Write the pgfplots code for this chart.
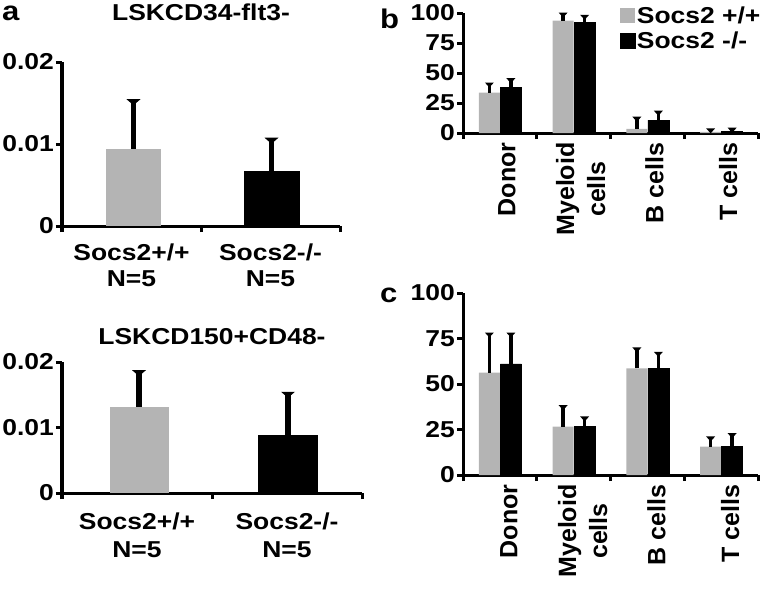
\documentclass[border=0pt]{standalone}
\usepackage{fontspec}
\setmainfont{Liberation Sans}[FakeStretch=1.15]
\newfontfamily\rotfont{Liberation Sans}
\usepackage{pgfplots}
\pgfplotsset{compat=1.18}
\definecolor{bargray}{RGB}{180,180,180}
\newcommand\tf{\fontsize{23bp}{26bp}\selectfont\bfseries}
\newcommand\rf{\rotfont\fontsize{25bp}{31bp}\selectfont\bfseries}
\newcommand\lf{\fontsize{27bp}{30bp}\selectfont\bfseries}
% error caps: pgfplots turns y error marks by 90 degrees, so they are drawn turned back
\pgfdeclareplotmark{capA}{%
 \pgfpathmoveto{\pgfqpoint{0bp}{7bp}}%
 \pgfpathlineto{\pgfqpoint{0bp}{-7bp}}%
 \pgfpathlineto{\pgfqpoint{-6bp}{0bp}}%
 \pgfpathclose
 \pgfusepathqfill}
\pgfdeclareplotmark{capC}{%
 \pgfpathmoveto{\pgfqpoint{0bp}{4.5bp}}%
 \pgfpathlineto{\pgfqpoint{0bp}{-4.5bp}}%
 \pgfpathlineto{\pgfqpoint{-5bp}{0bp}}%
 \pgfpathclose
 \pgfusepathqfill}
\pgfplotsset{
 panel/.style={
  scale only axis, axis lines*=left,
  axis line style={-, line width=3bp, black},
  tick align=outside, major tick length=6bp, minor tick length=6bp,
  every tick/.style={black, line width=3bp},
  major x tick style={draw=none},
  clip=false, ybar, scaled y ticks=false,
  /pgf/number format/assume math mode=true,
  error bars/y dir=plus, error bars/y explicit,
  error bars/error mark options={black, fill=black},
  ticklabel style={font=\tf},
  yticklabel style={inner xsep=2bp},
  legend image code/.code={\fill[##1] (0bp,-7.5bp) rectangle (15bp,7.5bp);},
 },
 panelA/.style={panel, xmin=-0.5, xmax=1.5, ymin=0, ymax=0.02,
  ytick={0,0.01,0.02}, yticklabels={0,0.01,0.02},
  xtick={0,1}, xticklabels={{Socs2+/+\\N=5},{Socs2-/-\\N=5}},
  xticklabel style={align=center},
  minor xtick={-0.5,0.5,1.5},
  error bars/error bar style={line width=5.5bp, black},
  error bars/error mark=capA,
  title style={at={(0.5,1)}, anchor=base, font=\tf},
 },
 panelB/.style={panel, xmin=-0.5, xmax=3.5, ymin=0, ymax=100,
  ytick={0,25,50,75,100}, yticklabels={0,25,50,75,100},
  xtick={0,1,2,3}, xticklabels={Donor,{Myeloid\\cells},B cells,T cells},
  xticklabel style={rotate=90, anchor=east, align=center, font=\rf},
  minor xtick={-0.5,0.5,1.5,2.5,3.5},
  bar width=21bp,
  error bars/error bar style={line width=3.5bp, black},
  error bars/error mark=capC,
 },
}
\begin{document}
\begin{tikzpicture}
\path[use as bounding box] (0bp,0bp) rectangle (762bp,-589bp);
% panel a top
\begin{axis}[panelA, at={(62bp,-226bp)}, anchor=south west,
  width=278bp, height=164bp, bar width=55bp,
  xticklabel style={yshift=-8bp},
  title={LSKCD34-flt3-}, title style={yshift=36bp}]
\addplot[fill=bargray, draw=none, bar shift=2bp] coordinates {(0,0.0094) +- (0,0.0057)};
\addplot[fill=black, draw=black, bar shift=1bp] coordinates {(1,0.0067) +- (0,0.0037)};
\end{axis}
% panel a bottom
\begin{axis}[panelA, at={(62bp,-493bp)}, anchor=south west,
  width=300bp, height=131bp, bar width=59bp,
  xticklabel style={yshift=-10bp, font=\fontsize{23bp}{28bp}\selectfont\bfseries},
  title={LSKCD150+CD48-}, title style={yshift=12bp}]
\addplot[fill=bargray, draw=none, bar shift=2bp] coordinates {(0,0.0132) +- (0,0.0051)};
\addplot[fill=black, draw=black, bar shift=1bp] coordinates {(1,0.0089) +- (0,0.0061)};
\end{axis}
% panel b
\begin{axis}[panelB, at={(463bp,-133bp)}, anchor=south west,
  width=295bp, height=120bp,
  xticklabel style={yshift=-7bp},
  legend style={at={(0.53,1.07)}, anchor=north west, draw=none, fill=none,
    font=\tf, inner sep=0pt, row sep=3bp, cells={anchor=west}},
  legend cell align=left]
\addplot[fill=bargray, draw=none, bar shift=-10.5bp] coordinates {
 (0,33.6) +- (0,6.4) (1,93.6) +- (0,4.7) (2,3.5) +- (0,8) (3,1.0) +- (0,0.8)};
\addlegendentry{Socs2 +/+}
\addplot[fill=black, draw=black, bar shift=11bp] coordinates {
 (0,38.0) +- (0,5.6) (1,92.0) +- (0,4.4) (2,10.8) +- (0,5.7) (3,1.5) +- (0,0.8)};
\addlegendentry{Socs2 -/-}
\end{axis}
% panel c
\begin{axis}[panelB, at={(463bp,-475bp)}, anchor=south west,
  width=295bp, height=182bp,
  xticklabel style={yshift=-9bp}]
\addplot[fill=bargray, draw=none, bar shift=-10.5bp] coordinates {
 (0,56.2) +- (0,20.7) (1,26.6) +- (0,10.4) (2,58.6) +- (0,10.1) (3,15.6) +- (0,4.2)};
\addplot[fill=black, draw=black, bar shift=11bp] coordinates {
 (0,61.0) +- (0,15.9) (1,26.6) +- (0,4.2) (2,58.6) +- (0,7.7) (3,15.6) +- (0,6.0)};
\end{axis}
\node[anchor=base west, font=\lf, inner sep=0pt] at (2bp,-20bp) {a};
\node[anchor=base west, font=\lf, inner sep=0pt] at (380bp,-28bp) {b};
\node[anchor=base west, font=\lf, inner sep=0pt] at (380bp,-302bp) {c};
\end{tikzpicture}
\end{document}
